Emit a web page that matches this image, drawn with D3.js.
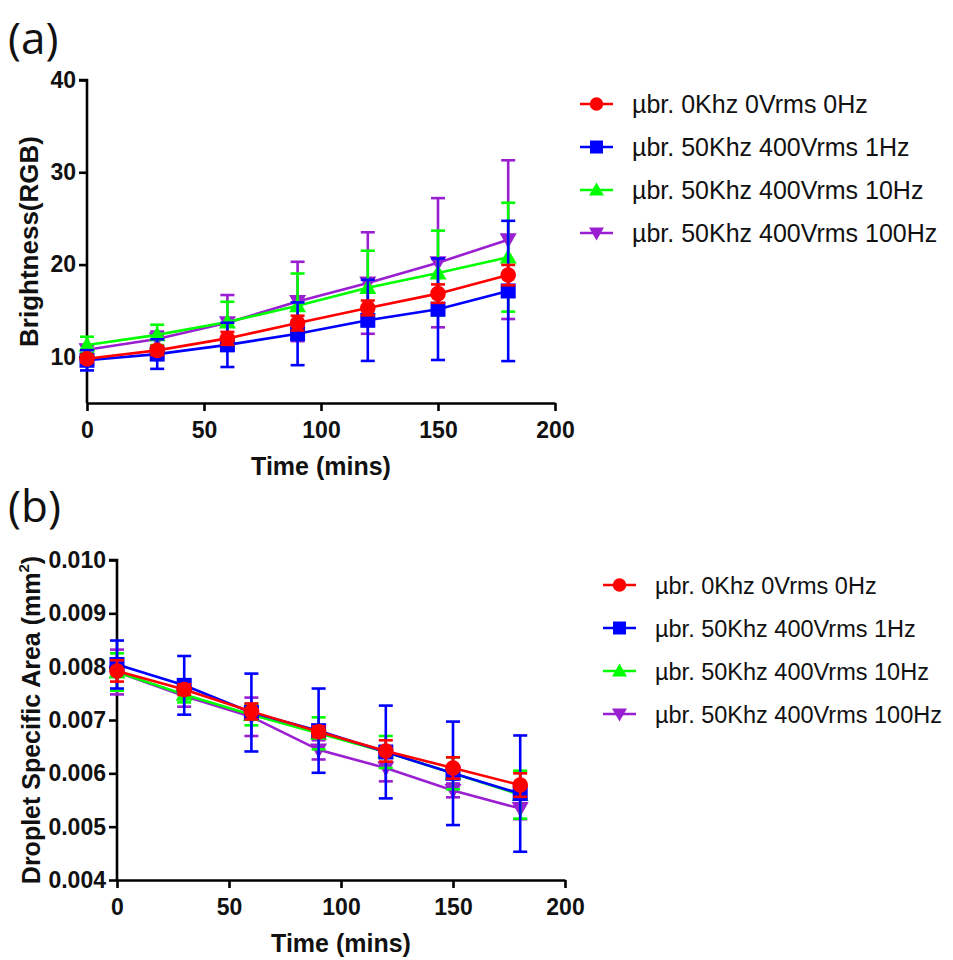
<!DOCTYPE html>
<html lang="en">
<head>
<meta charset="UTF-8">
<title>Brightness and droplet area</title>
<style>
  body { margin: 0; background: #fff; }
  text { font-family: "Liberation Sans", Arial, sans-serif; }
</style>
</head>
<body>
<svg width="953" height="960" id="svg"></svg>
<script src="https://d3js.org/d3.v7.min.js"></script>
<script>
// time points (mins)
const times = [0, 30, 60, 90, 120, 150, 180]
const seriesNames = [
  "\u00b5br. 0Khz 0Vrms 0Hz",
  "\u00b5br. 50Khz 400Vrms 1Hz",
  "\u00b5br. 50Khz 400Vrms 10Hz",
  "\u00b5br. 50Khz 400Vrms 100Hz"
]
const seriesColors = ["#ff0000", "#0000ff", "#00ff00", "#9a1fd1"]
const seriesSymbols = ["circle", "square", "triangle", "down"]

// (a) brightness (RGB), mean and SD
const brightRed = [9.8, 10.7, 12.0, 13.66, 15.3, 16.85, 18.86]
const brightRedSd = [0.4, 0.5, 0.7, 0.8, 0.8, 1.0, 1.1]
const brightBlue = [9.63, 10.3, 11.3, 12.5, 13.96, 15.16, 17.14]
const brightBlueSd = [1.1, 1.6, 2.4, 3.4, 4.4, 5.5, 7.6]
const brightGreen = [11.28, 12.38, 13.77, 15.53, 17.5, 19.08, 20.8]
const brightGreenSd = [0.9, 1.1, 2.2, 3.5, 4.0, 4.6, 5.9]
const brightPurple = [10.77, 11.94, 13.7, 16.0, 18.0, 20.2, 22.7]
const brightPurpleSd = [0.5, 0.8, 3.0, 4.3, 5.5, 7.0, 8.6]

// (b) droplet specific area (mm2), mean and SD
const areaRed = [0.00792, 0.00757, 0.00716, 0.00678, 0.00642, 0.0061, 0.00578]
const areaRedSd = [0.0002, 0.0001, 0.00015, 0.0001, 0.0002, 0.0002, 0.00022]
const areaBlue = [0.00804, 0.00765, 0.00714, 0.0068, 0.0064, 0.006, 0.00562]
const areaBlueSd = [0.00045, 0.00055, 0.00073, 0.00079, 0.00087, 0.00097, 0.00109]
const areaGreen = [0.0079, 0.00748, 0.0071, 0.00675, 0.0064, 0.006, 0.0056]
const areaGreenSd = [0.00035, 0.00015, 0.0002, 0.0003, 0.0003, 0.0003, 0.00045]
const areaPurple = [0.0079, 0.00745, 0.00706, 0.00644, 0.0061, 0.00568, 0.00534]
const areaPurpleSd = [0.00042, 0.0002, 0.00036, 0.00018, 0.00025, 0.00013, 0.0002]

const xTicks = [0, 50, 100, 150, 200]
const brightTicks = [10, 20, 30, 40]
const areaTicks = [0.004, 0.005, 0.006, 0.007, 0.008, 0.009, 0.010]

const svg = d3.select("svg#svg")

function symbolPath(kind, s) {
  if (kind === "circle") return d3.symbol().type(d3.symbolCircle).size(s * s * 0.85)()
  if (kind === "square") return `M${-s/2},${-s/2}h${s}v${s}h${-s}Z`
  let h = s * 0.95
  if (kind === "triangle") return `M0,${-h*0.6}L${s/2+1},${h*0.45}L${-s/2-1},${h*0.45}Z`
  return `M0,${h*0.6}L${s/2+1},${-h*0.45}L${-s/2-1},${-h*0.45}Z`
}

function drawPanel(cfg) {
  const x = d3.scaleLinear().domain([0, 200]).range([cfg.left, cfg.right])
  const y = d3.scaleLinear().domain(cfg.yDomain).range([cfg.bottom, cfg.top])
  const g = svg.append("g")

  const xAxis = d3.axisBottom(x).tickValues(xTicks).tickSize(8).tickSizeOuter(0).tickPadding(11)
  const yAxis = d3.axisLeft(y).tickValues(cfg.yTicks).tickSize(8).tickSizeOuter(0).tickPadding(3)
    .tickFormat(cfg.yFormat)

  const gx = g.append("g").attr("transform", `translate(0,${cfg.bottom})`).call(xAxis)
  const gy = g.append("g").attr("transform", `translate(${cfg.left},0)`).call(yAxis)
  for (const a of [gx, gy]) {
    a.select(".domain").attr("stroke", "#000").attr("stroke-width", 2.6)
    a.selectAll(".tick line").attr("stroke", "#000").attr("stroke-width", 2.6)
    a.selectAll(".tick text").attr("fill", "#111").attr("font-size", 23).attr("font-weight", "bold")
      .style("font-family", "'Liberation Sans', Arial, sans-serif")
  }
  gy.select(".domain").attr("d", `M-8,${cfg.top}H0V${cfg.bottom}`)

  // draw back to front so the red series sits on top
  d3.range(cfg.series.length).reverse().forEach(i => {
    const s = cfg.series[i]
    const pts = times.map((t, k) => ({ t: t, v: s.mean[k], sd: s.sd[k] }))
    const col = seriesColors[i]
    const sg = g.append("g")
    const eb = sg.selectAll("g.eb").data(pts).enter().append("g")
    eb.append("line").attr("x1", d => x(d.t)).attr("x2", d => x(d.t))
      .attr("y1", d => y(d.v - d.sd)).attr("y2", d => y(d.v + d.sd))
      .attr("stroke", col).attr("stroke-width", 2.6)
    eb.append("line").attr("x1", d => x(d.t) - 7).attr("x2", d => x(d.t) + 7)
      .attr("y1", d => y(d.v + d.sd)).attr("y2", d => y(d.v + d.sd))
      .attr("stroke", col).attr("stroke-width", 2.6)
    eb.append("line").attr("x1", d => x(d.t) - 7).attr("x2", d => x(d.t) + 7)
      .attr("y1", d => y(d.v - d.sd)).attr("y2", d => y(d.v - d.sd))
      .attr("stroke", col).attr("stroke-width", 2.6)

    const line = d3.line().x(d => x(d.t)).y(d => y(d.v))
    sg.append("path").datum(pts).attr("fill", "none").attr("stroke", col)
      .attr("stroke-width", 2.6).attr("d", line)

    sg.selectAll("path.mk").data(pts).enter().append("path").attr("class", "mk")
      .attr("transform", d => `translate(${x(d.t)},${y(d.v)})`)
      .attr("d", symbolPath(seriesSymbols[i], 15)).attr("fill", col)
  })

  // axis titles
  g.append("text").attr("x", (cfg.left + cfg.right) / 2).attr("y", cfg.bottom + 72)
    .attr("text-anchor", "middle").attr("font-size", 25).attr("font-weight", "bold").attr("fill", "#111")
    .text("Time (mins)")
  const yl = g.append("text")
    .attr("transform", `translate(${cfg.yLabelX},${(cfg.top + cfg.bottom) / 2}) rotate(-90)`)
    .attr("text-anchor", "middle").attr("font-size", cfg.yLabelSize).attr("font-weight", "bold").attr("fill", "#111")
  yl.append("tspan").text(cfg.yLabel)
  if (cfg.yLabelSup) {
    yl.append("tspan").attr("font-size", 15).attr("dy", -11).text(cfg.yLabelSup)
    yl.append("tspan").attr("dy", 11).text(")")
  }

  // panel letter
  svg.append("text").attr("x", 8).attr("y", cfg.letterY).attr("font-size", 44)
    .style("font-family", "'Open Sans', 'Liberation Sans', sans-serif").attr("fill", "#111")
    .text(cfg.letter)

  // legend
  const lg = svg.append("g")
  seriesNames.forEach((n, i) => {
    const yy = cfg.legendY + i * 43
    lg.append("line").attr("x1", cfg.legendX).attr("x2", cfg.legendX + 33)
      .attr("y1", yy).attr("y2", yy).attr("stroke", seriesColors[i]).attr("stroke-width", 2.6)
    lg.append("path").attr("transform", `translate(${cfg.legendX + 16.5},${yy})`)
      .attr("d", symbolPath(seriesSymbols[i], 13)).attr("fill", seriesColors[i])
    lg.append("text").attr("x", cfg.legendX + 52).attr("y", yy + 9).attr("font-size", cfg.legendSize)
      .attr("fill", "#111").text(n)
  })
}

drawPanel({
  left: 87, right: 555, top: 80, bottom: 403,
  yDomain: [5, 40], yTicks: brightTicks, yFormat: d3.format("d"),
  yLabel: "Brightness(RGB)", yLabelX: 38, yLabelSize: 26,
  letter: "(a)", letterY: 54,
  legendX: 580, legendY: 104, legendSize: 25,
  series: [
    { mean: brightRed, sd: brightRedSd },
    { mean: brightBlue, sd: brightBlueSd },
    { mean: brightGreen, sd: brightGreenSd },
    { mean: brightPurple, sd: brightPurpleSd }
  ]
})

drawPanel({
  left: 117, right: 565, top: 560, bottom: 880,
  yDomain: [0.004, 0.010], yTicks: areaTicks, yFormat: d3.format(".3f"),
  yLabel: "Droplet Specific Area (mm", yLabelSup: "2", yLabelX: 40, yLabelSize: 25,
  letter: "(b)", letterY: 522,
  legendX: 603, legendY: 585, legendSize: 23.5,
  series: [
    { mean: areaRed, sd: areaRedSd },
    { mean: areaBlue, sd: areaBlueSd },
    { mean: areaGreen, sd: areaGreenSd },
    { mean: areaPurple, sd: areaPurpleSd }
  ]
})
</script>
</body>
</html>
